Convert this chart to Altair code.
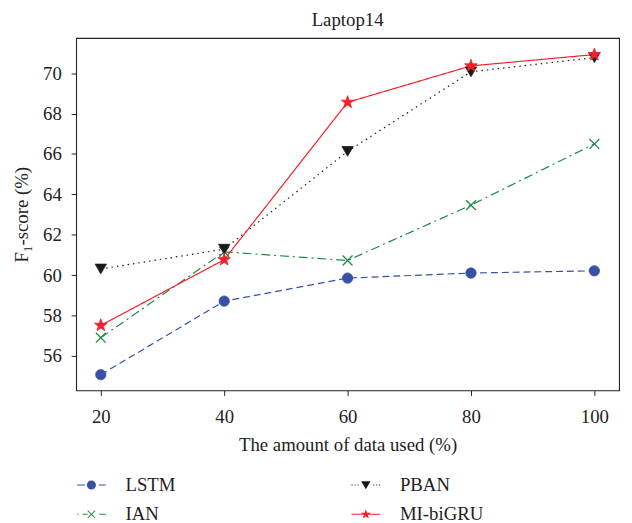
import altair as alt
import pandas as pd

# ---- data ----
data_used = [20, 40, 60, 80, 100]
models = ["LSTM", "IAN", "PBAN", "MI-biGRU"]
lstm = [55.08, 58.72, 59.86, 60.11, 60.22]
ian = [56.91, 61.16, 60.73, 63.47, 66.50]
pban = [60.31, 61.29, 66.13, 70.07, 70.77]
mi_bigru = [57.52, 60.77, 68.56, 70.36, 70.92]
y_ticks = [56, 58, 60, 62, 64, 66, 68, 70]
x_ticks = [20, 40, 60, 80, 100]

series = {"LSTM": lstm, "IAN": ian, "PBAN": pban, "MI-biGRU": mi_bigru}
rows = []
for m in models:
    for x, v in zip(data_used, series[m]):
        rows.append({"model": m, "pct": x, "f1": v})
df = pd.DataFrame(rows)

# ---- styles ----
FONT = "Liberation Serif"
TXT = "#222222"
colors = {"LSTM": "#3651A6", "IAN": "#1F8A43", "PBAN": "#1a1a1a", "MI-biGRU": "#F2202B"}
dashes = {"LSTM": [7, 4], "IAN": [9, 4, 2, 4], "PBAN": [1.5, 4], "MI-biGRU": [1, 0]}

STAR = ("M0,-1L0.235,-0.324L0.951,-0.309L0.38,0.124L0.588,0.809L0,0.4"
        "L-0.588,0.809L-0.38,0.124L-0.951,-0.309L-0.235,-0.324Z")
XMARK = "M-1,-1L1,1M-1,1L1,-1"
markers = {
    "LSTM": dict(shape="circle", size=110, filled=True),
    "IAN": dict(shape=XMARK, size=100, filled=False, strokeWidth=1.3),
    "PBAN": dict(shape="triangle-down", size=130, filled=True),
    "MI-biGRU": dict(shape=STAR, size=180, filled=True),
}

# legend symbols (filled outlines only): line pieces + marker,
# in units of sqrt(size)/2 px
legend_order = ["LSTM", "IAN", "PBAN", "MI-biGRU"]


def seg(a, b, h=0.1):
    return f"M{a},{-h}H{b}V{h}H{a}Z"


X_POLY = ("M0.82,-0.679L0.141,0L0.82,0.679L0.679,0.82L0,0.141L-0.679,0.82"
          "L-0.82,0.679L-0.141,0L-0.82,-0.679L-0.679,-0.82L0,-0.141L0.679,-0.82Z")
legend_paths = {
    "LSTM": seg(-2.9, -1.3) + seg(1.5, 2.9)
            + "M-0.92,0A0.92,0.92 0 1,1 0.92,0A0.92,0.92 0 1,1 -0.92,0Z",
    "PBAN": "".join(seg(a, a + 0.22) for a in (-2.9, -2.3, -1.7, 1.5, 2.1, 2.68))
            + "M-0.95,-0.75L0.95,-0.75L0,0.85Z",
    "IAN": seg(-2.85, -2.6) + seg(-1.8, -0.75) + seg(1.6, 2.9) + X_POLY,
    "MI-biGRU": seg(-2.9, 2.9)
                + ("M0,-1.05L0.247,-0.34L1.0,-0.324L0.4,0.13L0.617,0.85L0,0.42"
                   "L-0.617,0.85L-0.4,0.13L-1.0,-0.324L-0.247,-0.34Z"),
}

x_scale = alt.Scale(domain=[16, 104], nice=False, zero=False)
y_scale = alt.Scale(domain=[54.3, 71.74], nice=False, zero=False)
x_enc = alt.X("pct:Q", scale=x_scale,
              axis=alt.Axis(values=x_ticks, title="The amount of data used (%)"))
y_enc = alt.Y("f1:Q", scale=y_scale,
              axis=alt.Axis(values=y_ticks, title="F₁-score (%)"))

color_scale = alt.Scale(domain=legend_order, range=[colors[m] for m in legend_order])
shape_scale = alt.Scale(domain=legend_order, range=[legend_paths[m] for m in legend_order])

base = alt.Chart(df)

line_layers = []
point_layers = []
for m in models:
    line_layers.append(
        base.mark_line(strokeWidth=1.2, stroke=colors[m], strokeDash=dashes[m])
        .encode(x=x_enc, y=y_enc)
        .transform_filter(alt.datum.model == m)
    )
    kw = dict(markers[m])
    filled = kw.pop("filled")
    if filled:
        mk = base.mark_point(filled=True, fill=colors[m], stroke=colors[m],
                             strokeWidth=0.8, opacity=1, **kw)
    else:
        mk = base.mark_point(filled=False, stroke=colors[m], opacity=1, **kw)
    point_layers.append(mk.encode(x=x_enc, y=y_enc).transform_filter(alt.datum.model == m))

# layer without drawn marks (all rows filtered out) that only provides the legend
legend_layer = base.mark_point(filled=True, size=144, strokeWidth=0, opacity=1).encode(
    x=x_enc, y=y_enc,
    color=alt.Color("model:N", scale=color_scale,
                    legend=alt.Legend(title=None, orient="none", legendX=6, legendY=443,
                                      columns=2, columnPadding=178, rowPadding=10,
                                      labelOffset=25, labelFont=FONT, labelFontSize=19,
                                      labelColor=TXT, symbolStrokeWidth=0,
                                      symbolOpacity=1, padding=0)),
    shape=alt.Shape("model:N", scale=shape_scale),
).transform_filter("false")

chart = alt.layer(*line_layers, *point_layers, legend_layer).properties(
    width=550, height=357,
    title=alt.TitleParams("Laptop14", font=FONT, fontSize=19, fontWeight="normal",
                          color=TXT, anchor="middle", baseline="alphabetic", offset=6,
                          frame="group", dy=13),
    autosize=alt.AutoSizeParams(type="none"),
    padding={"left": 69, "top": 27, "right": 5, "bottom": 140},
).configure_view(
    stroke="#222222", strokeWidth=1.1
).configure_axis(
    domain=False, grid=False, tickColor="#222222", tickSize=5, tickWidth=1,
    labelFont=FONT, labelFontSize=19, labelColor=TXT,
    titleFont=FONT, titleFontSize=19, titleColor=TXT, titleFontWeight="normal",
).configure_axisX(
    labelPadding=12, titlePadding=10
).configure_axisY(
    labelPadding=10, titlePadding=11
)

chart.save("out.html", embed_options={"renderer": "svg", "actions": False})
